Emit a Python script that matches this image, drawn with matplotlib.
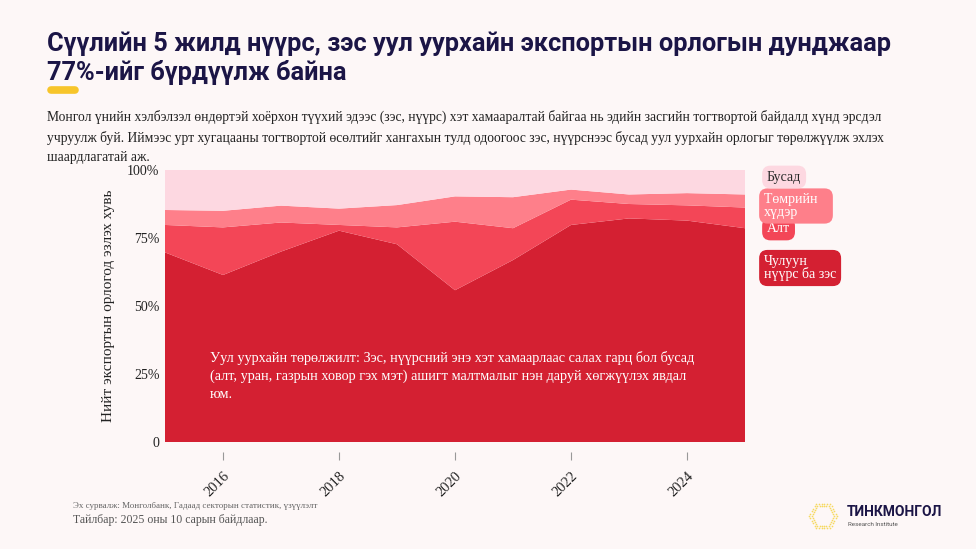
import matplotlib
matplotlib.use("Agg")
import matplotlib.pyplot as plt
from matplotlib.lines import Line2D
import numpy as np

# ---- data (share of total exports, %) ----
years = [2015, 2016, 2017, 2018, 2019, 2020, 2021, 2022, 2023, 2024, 2025]
coal_copper = [69.7, 61.4, 70.0, 77.7, 72.7, 55.8, 66.9, 79.8, 82.2, 81.4, 78.6]
gold = [10.1, 17.5, 10.7, 2.1, 6.2, 25.2, 11.7, 9.3, 5.3, 5.6, 7.6]
iron_ore = [5.5, 6.1, 6.2, 6.0, 8.2, 9.3, 11.4, 3.7, 3.5, 4.5, 4.8]
other = [14.7, 15.0, 13.1, 14.2, 12.9, 9.7, 10.0, 7.2, 9.0, 8.5, 9.0]

series_names = ["Чулуун\nнүүрс ба зэс", "Алт", "Төмрийн\nхүдэр", "Бусад"]
colors = ["#D42032", "#F34657", "#FE7F8A", "#FDD8E1"]
text_colors = ["white", "white", "white", "#2a2a2a"]

xticks = [2016, 2018, 2020, 2022, 2024]
yticks = [0, 25, 50, 75, 100]
ytick_labels = ["0", "25%", "50%", "75%", "100%"]

title = "Сүүлийн 5 жилд нүүрс, зэс уул уурхайн экспортын орлогын дунджаар\n77%-ийг бүрдүүлж байна"
subtitle = ("Монгол үнийн хэлбэлзэл өндөртэй хоёрхон түүхий эдээс (зэс, нүүрс) хэт хамааралтай байгаа нь эдийн засгийн тогтвортой байдалд хүнд эрсдэл\n"
            "учруулж буй. Иймээс урт хугацааны тогтвортой өсөлтийг хангахын тулд одоогоос зэс, нүүрснээс бусад уул уурхайн орлогыг төрөлжүүлж эхлэх\n"
            "шаардлагатай аж.")
annotation = ("Уул уурхайн төрөлжилт: Зэс, нүүрсний энэ хэт хамаарлаас салах гарц бол бусад\n"
              "(алт, уран, газрын ховор гэх мэт) ашигт малтмалыг нэн даруй хөгжүүлэх явдал\n"
              "юм.")
ylabel = "Нийт экспортын орлогод эзлэх хувь"
source = "Эх сурвалж: Монголбанк, Гадаад секторын статистик, үзүүлэлт"
note = "Тайлбар: 2025 оны 10 сарын байдлаар."

BG = "#FDF7F7"
NAVY = "#1B1546"
SERIF = ["Liberation Serif", "DejaVu Serif"]
SANS = ["Roboto", "DejaVu Sans"]

fig = plt.figure(figsize=(9.76, 5.49), dpi=100, facecolor=BG)
W, H = 976, 549

def fx(px):
    return px / W

def fy(py):
    return 1 - py / H

ax = fig.add_axes([fx(165), fy(442), fx(745) - fx(165), fy(170) - fy(442)])
ax.set_facecolor(BG)
for s in ["top", "right", "left"]:
    ax.spines[s].set_visible(False)
ax.spines["bottom"].set_position(("outward", 7))
ax.spines["bottom"].set_visible(False)

ax.stackplot(years, coal_copper, gold, iron_ore, other, colors=colors,
             linewidth=0, edgecolor="none")
ax.set_xlim(years[0], years[-1])
ax.set_ylim(0, 100)

ax.set_xticks(xticks)
ax.set_xticklabels([str(y) for y in xticks], rotation=45, ha="right",
                   rotation_mode="anchor", family=SERIF, fontsize=10.5, color="#222222")
ax.set_yticks(yticks)
ax.set_yticklabels(ytick_labels, family=SERIF, fontsize=10, color="#222222")
ax.tick_params(axis="y", length=0, pad=4)
ax.tick_params(axis="x", length=6, width=0.8, color="#999999", pad=7, direction="out")

ax.set_ylabel(ylabel, family=SERIF, fontsize=11, color="#222222", labelpad=9)

ax.text(0.078, 0.335, annotation, transform=ax.transAxes, ha="left", va="top",
        family=SERIF, fontsize=10.3, color="white", linespacing=1.45)

# legend labels at right
legend_pos = [(764, 268), (767, 229), (764, 206), (767, 177)]
for name, c, tc, (px, py) in zip(series_names, colors, text_colors, legend_pos):
    label = name
    if name.startswith("Төмрийн"):
        label = "Төмрийн   \nхүдэр"
    fig.text(fx(px), fy(py), label, ha="left", va="center", family=SERIF,
             fontsize=10, color=tc, linespacing=0.95,
             bbox=dict(boxstyle="round,pad=0.35,rounding_size=0.6", fc=c, ec="none"))

# title block
fig.text(fx(47), fy(58), title, ha="left", va="center", family=SANS,
         fontweight="bold", fontsize=18.3, color=NAVY, linespacing=1.22)
fig.add_artist(Line2D([fx(51), fx(75)], [fy(90), fy(90)], lw=5.5,
                      color="#F7C52A", solid_capstyle="round"))
fig.text(fx(47), fy(137), subtitle, ha="left", va="center", family=SERIF,
         fontsize=9.8, color="#222222", linespacing=1.6)

# footer
fig.text(fx(73), fy(506), source, ha="left", va="center", family=SERIF,
         fontsize=6.5, color="#666666")
fig.text(fx(73), fy(520), note, ha="left", va="center", family=SERIF,
         fontsize=8.5, color="#555555")

# logo
lax = fig.add_axes([fx(806), fy(534), fx(34), fy(498) - fy(534)])
lax.set_xlim(-1.2, 1.2)
lax.set_ylim(-1.2, 1.2)
lax.set_aspect("equal")
lax.axis("off")
ang = np.deg2rad(np.arange(0, 360, 60))
vx, vy = np.cos(ang), np.sin(ang)
pts_x, pts_y = [], []
for r in [1.0, 0.8]:
    for i in range(6):
        for t in np.linspace(0, 1, 5, endpoint=False):
            pts_x.append(r * (vx[i] * (1 - t) + vx[(i + 1) % 6] * t))
            pts_y.append(r * (vy[i] * (1 - t) + vy[(i + 1) % 6] * t))
lax.scatter(pts_x, pts_y, s=1.5, color="#F5D23A", alpha=0.8, linewidths=0)

fig.text(fx(847), fy(512), "ТИНКМОНГОЛ", ha="left", va="center", family=SANS,
         fontweight="bold", fontsize=10, color=NAVY)
fig.text(fx(848), fy(525), "Research Institute", ha="left", va="center", family=SANS,
         fontsize=4.5, color="#555555")

fig.savefig("out.png", dpi=100, facecolor=BG)
